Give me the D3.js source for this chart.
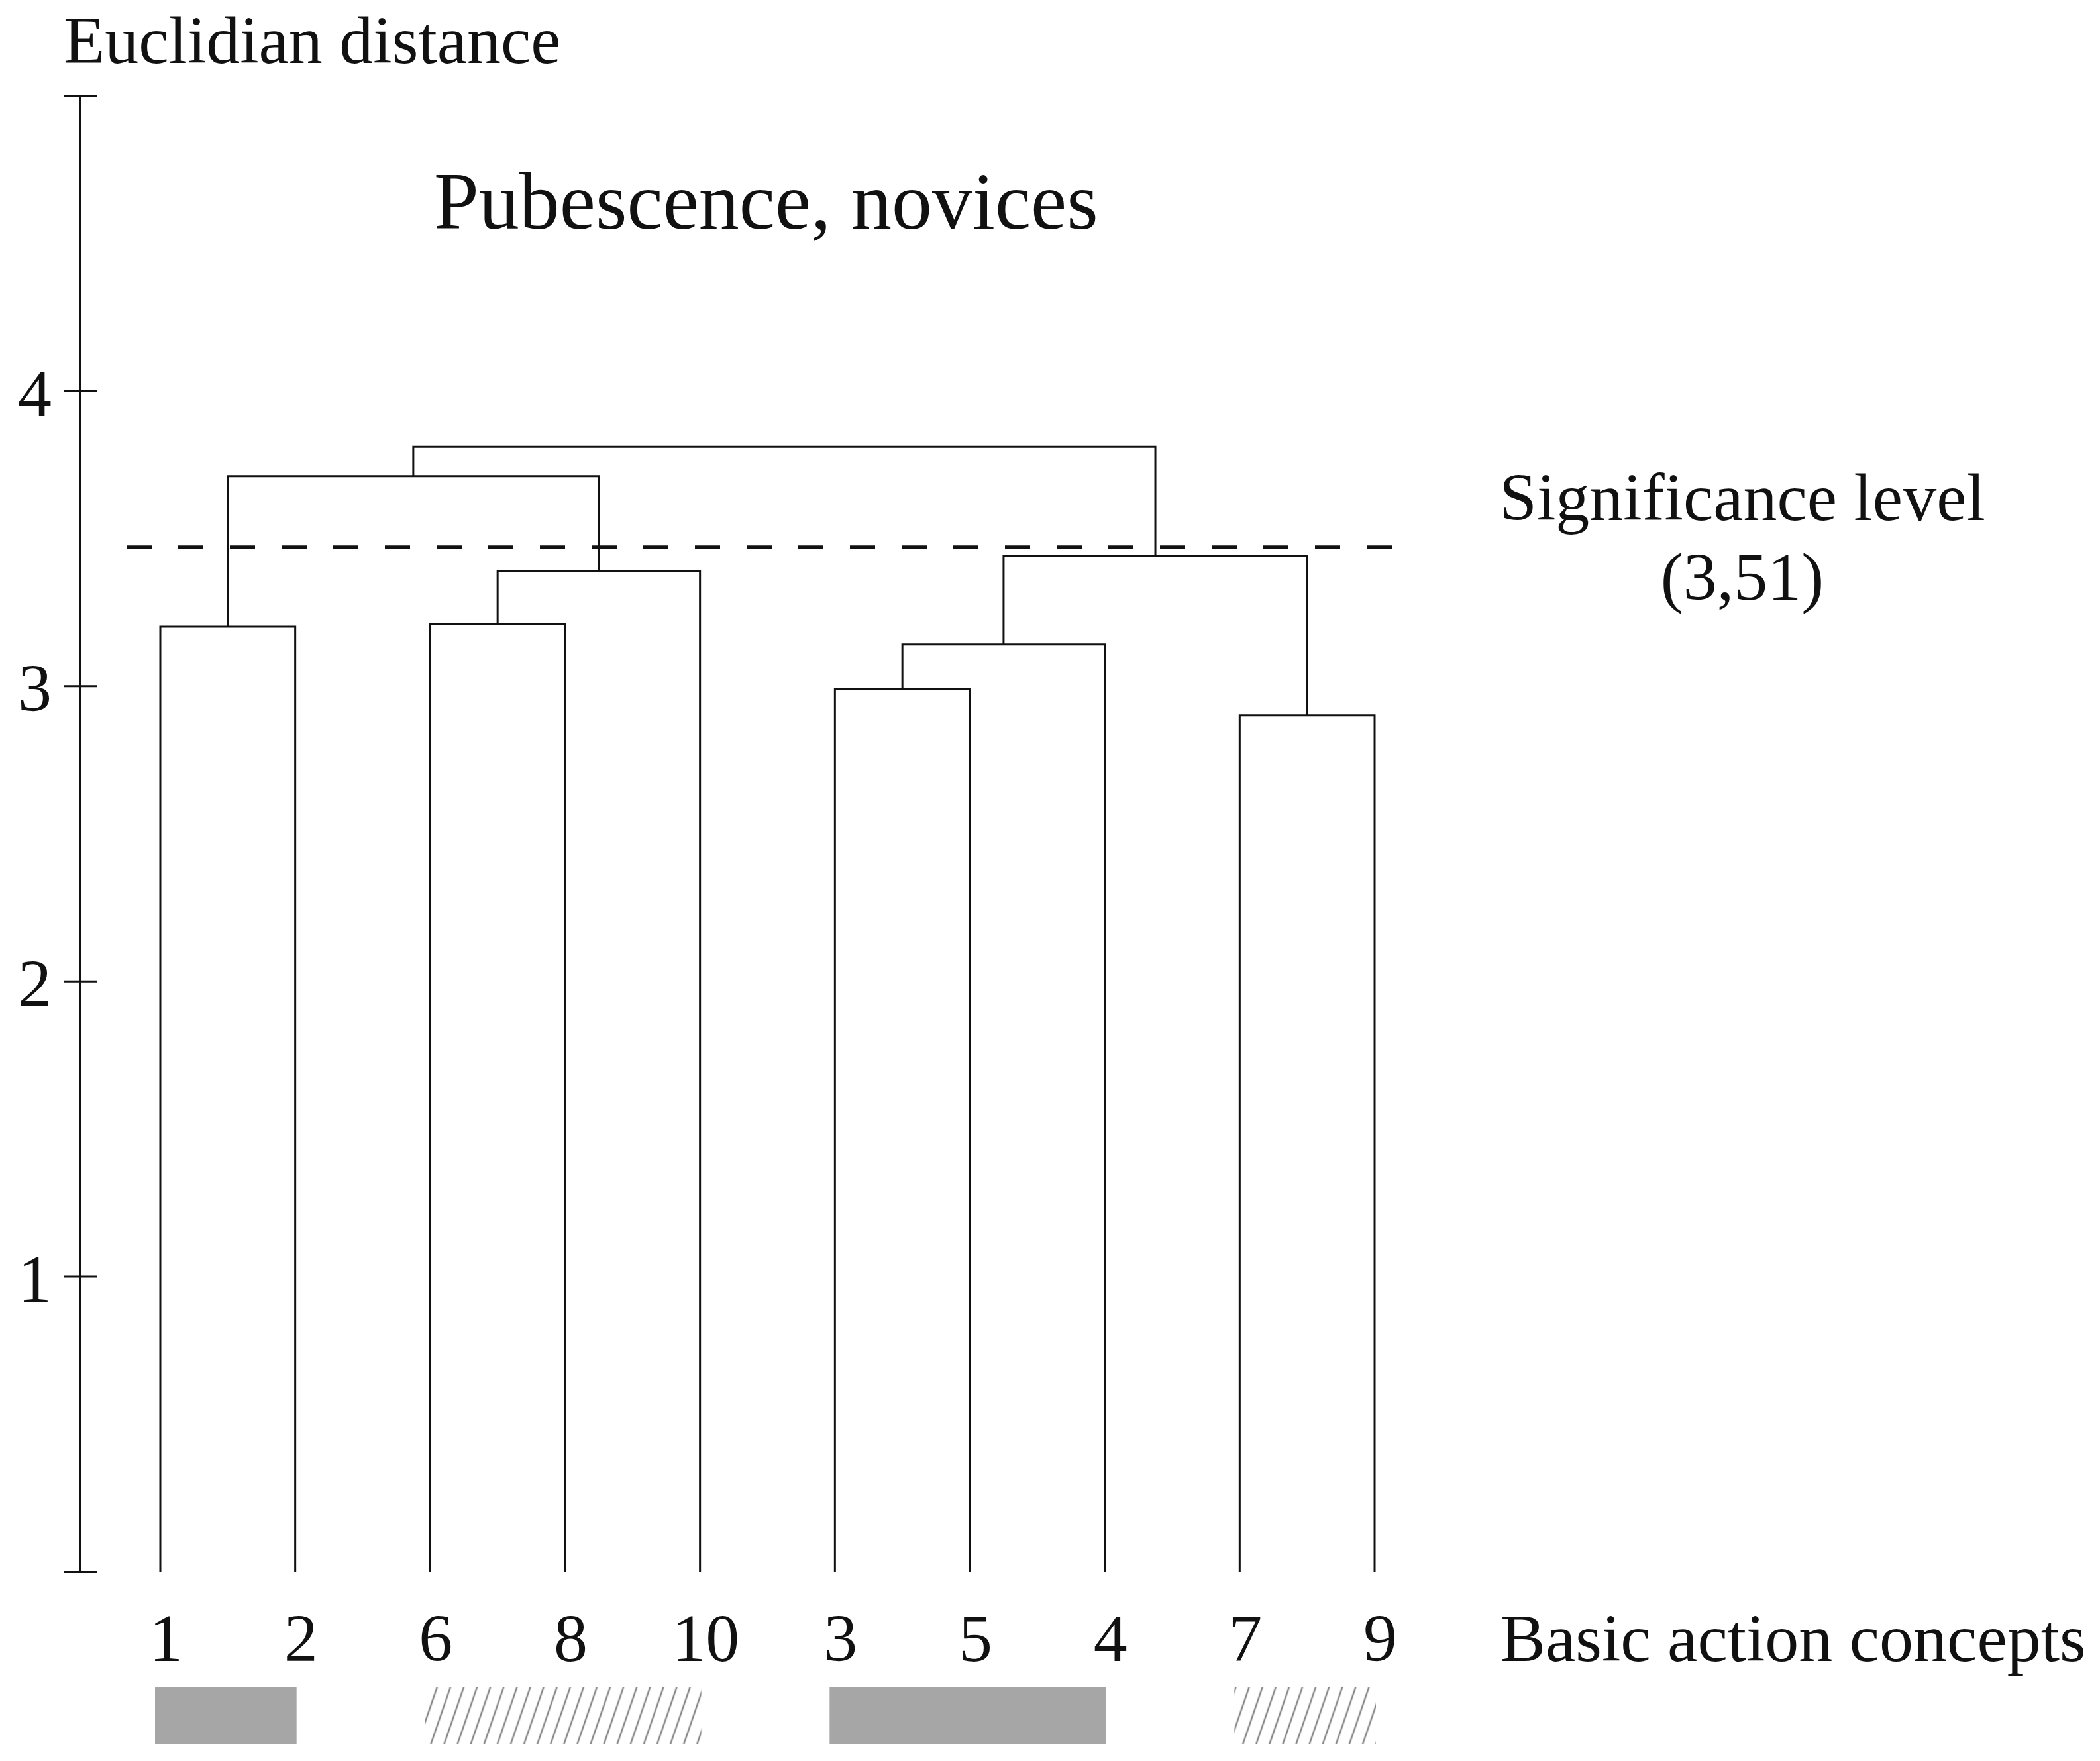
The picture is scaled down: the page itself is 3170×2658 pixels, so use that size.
<!DOCTYPE html>
<html>
<head>
<meta charset="utf-8">
<script src="https://cdn.jsdelivr.net/npm/d3@7"></script>
<style>
  body { margin: 0; background: #fff; }
  text { font-family: "Liberation Serif", "Times New Roman", serif; fill: #111; }
</style>
</head>
<body>
<div id="chart"></div>
<script>
// Leaves in the order they appear along the bottom
const leaves = ["1", "2", "6", "8", "10", "3", "5", "4", "7", "9"];
// Linkage: node ids 0-9 are leaves, merge k creates node 10 + k
const mergeLeft   = [0, 2, 11, 10, 5, 14, 8, 15, 13];
const mergeRight  = [1, 3, 4, 12, 6, 7, 9, 16, 17];
const mergeHeight = [3.20, 3.21, 3.39, 3.71, 2.99, 3.14, 2.90, 3.44, 3.81];
// Significance level (line as drawn, label as printed)
const sigLevel = 3.47;
const sigLabel = "(3,51)";
// Tick values on the distance axis
const tickValues = [0, 1, 2, 3, 4, 5];
// Group bars under the leaves
const groupStart = ["1", "6", "3", "7"];
const groupEnd   = ["2", "10", "4", "9"];
const groupType  = ["solid", "hatch", "solid", "hatch"];

let w = 3170;
let h = 2658;

let svg = d3.select("#chart").append("svg")
    .attr("width", w)
    .attr("height", h)
    .style("background", "#fff");

// hatch pattern for the striped group bars
let defs = svg.append("defs");
let pat = defs.append("pattern")
    .attr("id", "hatch")
    .attr("patternUnits", "userSpaceOnUse")
    .attr("width", 19)
    .attr("height", 20)
    .attr("patternTransform", "rotate(19)");
pat.append("rect").attr("width", 19).attr("height", 20).attr("fill", "#fff");
pat.append("line")
    .attr("x1", 9).attr("x2", 9).attr("y1", 0).attr("y2", 20)
    .attr("stroke", "#8a8a8a").attr("stroke-width", 2.6);

let xScale = d3.scalePoint()
    .domain(leaves)
    .range([242, 2075]);

let yScale = d3.scaleLinear()
    .domain([0, 5])
    .range([2372, 144]);

// y axis with ticks crossing the line on both sides
let yAxis = svg.append("g")
    .attr("transform", "translate(121,0)")
    .call(d3.axisLeft(yScale)
        .tickValues(tickValues)
        .tickSizeInner(25)
        .tickSizeOuter(0)
        .tickPadding(18)
        .tickFormat(d => (d === 0 || d === 5) ? "" : d));
yAxis.select(".domain").attr("stroke", "#111").attr("stroke-width", 3);
yAxis.selectAll(".tick line").attr("x1", 25).attr("stroke", "#111").attr("stroke-width", 3);
yAxis.selectAll(".tick text")
    .attr("font-size", 102)
    .attr("font-family", "Liberation Serif, Times New Roman, serif")
    .attr("fill", "#111")
    .attr("dy", "0.37em");

// leaf labels
let xAxis = svg.append("g")
    .attr("transform", "translate(0,2372)")
    .call(d3.axisBottom(xScale).tickSize(0).tickPadding(63));
xAxis.select(".domain").remove();
xAxis.selectAll(".tick text")
    .attr("font-size", 102)
    .attr("font-family", "Liberation Serif, Times New Roman, serif")
    .attr("fill", "#111")
    .attr("dx", 8);

// node positions: leaves at distance 0, merges centred over their children
let nodeX = leaves.map(d => xScale(d));
let nodeH = leaves.map(() => 0);
mergeLeft.forEach((l, k) => {
    let r = mergeRight[k];
    nodeX.push((nodeX[l] + nodeX[r]) / 2);
    nodeH.push(mergeHeight[k]);
});

let links = mergeLeft.map((l, k) => ({l: l, r: mergeRight[k], hgt: mergeHeight[k]}));

svg.append("g")
    .selectAll("path")
    .data(links)
    .enter()
    .append("path")
    .attr("d", d => {
        let p = d3.path();
        p.moveTo(nodeX[d.l], yScale(nodeH[d.l]));
        p.lineTo(nodeX[d.l], yScale(d.hgt));
        p.lineTo(nodeX[d.r], yScale(d.hgt));
        p.lineTo(nodeX[d.r], yScale(nodeH[d.r]));
        return p.toString();
    })
    .attr("fill", "none")
    .attr("stroke", "#111")
    .attr("stroke-width", 3);

// significance line
svg.append("line")
    .attr("x1", 191)
    .attr("x2", 2118)
    .attr("y1", yScale(sigLevel))
    .attr("y2", yScale(sigLevel))
    .attr("stroke", "#111")
    .attr("stroke-width", 5)
    .attr("stroke-dasharray", "38 40");

// group bars
svg.append("g")
    .selectAll("rect")
    .data(groupStart.map((s, i) => ({s: s, e: groupEnd[i], t: groupType[i]})))
    .enter()
    .append("rect")
    .attr("x", d => xScale(d.s) - 8)
    .attr("width", d => xScale(d.e) - xScale(d.s) + 10)
    .attr("y", 2547)
    .attr("height", 85)
    .attr("fill", d => d.t === "solid" ? "#a6a6a6" : "url(#hatch)");

// texts
svg.append("text")
    .text("Euclidian distance")
    .attr("x", 96)
    .attr("y", 95)
    .attr("font-size", 102);

svg.append("text")
    .text("Pubescence, novices")
    .attr("x", 655)
    .attr("y", 345)
    .attr("font-size", 122);

svg.append("text")
    .text("Significance level")
    .attr("x", 2630)
    .attr("y", 785)
    .attr("font-size", 102)
    .attr("text-anchor", "middle");

svg.append("text")
    .text(sigLabel)
    .attr("x", 2630)
    .attr("y", 905)
    .attr("font-size", 102)
    .attr("text-anchor", "middle");

svg.append("text")
    .text("Basic action concepts")
    .attr("x", 2265)
    .attr("y", 2507)
    .attr("font-size", 102);
</script>
</body>
</html>
